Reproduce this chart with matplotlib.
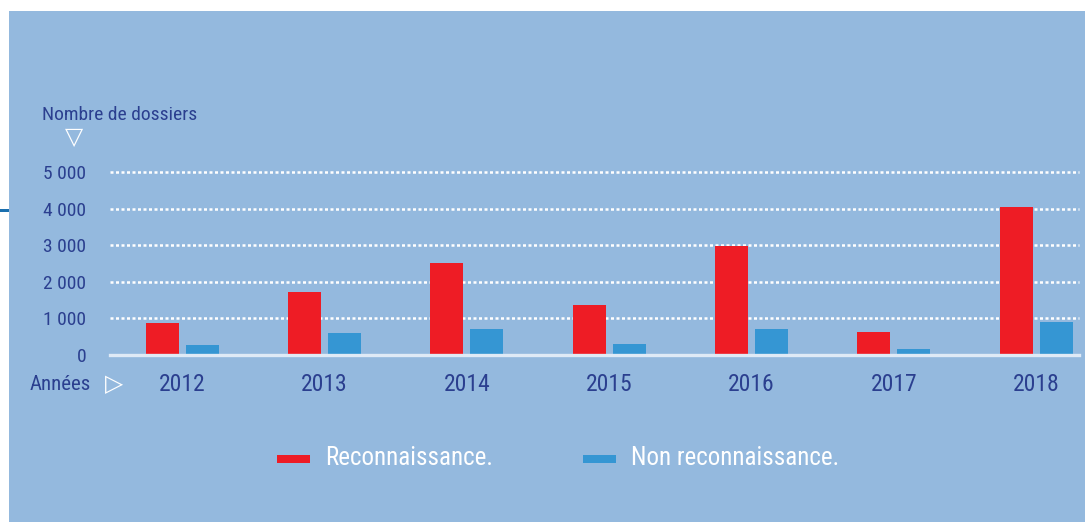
import matplotlib.pyplot as plt
from matplotlib.patches import Rectangle

years = ["2012", "2013", "2014", "2015", "2016", "2017", "2018"]
reconnaissance = [880, 1720, 2520, 1370, 2990, 630, 4040]
non_reconnaissance = [270, 610, 710, 300, 720, 165, 900]
yticks = [0, 1000, 2000, 3000, 4000, 5000]
ytick_labels = ["0", "1 000", "2 000", "3 000", "4 000", "5 000"]

BG = "#94b9de"
RED = "#ee1c25"
BLUE = "#3596d3"
TXT = "#2b3f8f"

plt.rcParams['font.family'] = ['Roboto Condensed', 'DejaVu Sans']

W, H = 1085, 522
fig = plt.figure(figsize=(W / 100, H / 100), dpi=100)
fig.patch.set_facecolor("white")

# background panel
fig.add_artist(Rectangle((9 / W, 0), 1, 1 - 11 / H, transform=fig.transFigure,
                         facecolor=BG, edgecolor="none", zorder=0))
fig.add_artist(Rectangle((0, 1 - 212 / H), 9 / W, 3 / H, transform=fig.transFigure,
                         facecolor="#1b6fae", edgecolor="none", zorder=1))

ax = fig.add_axes([110 / W, 1 - 355 / H, 969 / W, 183 / H])
ax.set_facecolor("none")
for s in ax.spines.values():
    s.set_visible(False)

x = list(range(len(years)))
bw = 33 / 142.4
off = 20 / 142.4
ax.bar([i - off for i in x], reconnaissance, width=bw, color=RED, zorder=3)
ax.bar([i + off for i in x], non_reconnaissance, width=bw, color=BLUE, zorder=3)

for v in yticks[1:]:
    ax.axhline(v, color="white", lw=1.8, linestyle=(0, (1.2, 1.0)), zorder=2, clip_on=False)
ax.axhline(0, color="#dfeaf6", lw=2.4, zorder=4, clip_on=False)

ax.set_xlim(-0.506, 6.3)
ax.set_ylim(0, 5000)
ax.set_yticks(yticks)
ax.set_yticklabels(ytick_labels)
ax.set_xticks(x)
ax.set_xticklabels(years)
ax.tick_params(axis="y", length=0, pad=17, labelsize=14, labelcolor=TXT)
ax.tick_params(axis="x", length=0, pad=13, labelsize=17, labelcolor=TXT)

fig.text(42 / W, 1 - 115 / H, "Nombre de dossiers", fontsize=14, color=TXT,
         ha="left", va="center")
fig.text(74 / W, 1 - 137 / H, "▽", fontsize=17, color="white", ha="center", va="center",
         family=['DejaVu Sans'])
fig.text(30 / W, 1 - 384 / H, "Années", fontsize=15, color=TXT, ha="left", va="center")
fig.text(114 / W, 1 - 384 / H, "▷", fontsize=17, color="white", ha="center", va="center",
         family=['DejaVu Sans'])

# legend
for px, color, label in [(277, RED, "Reconnaissance."), (583, BLUE, "Non reconnaissance.")]:
    fig.add_artist(Rectangle((px / W, 1 - 463 / H), 33 / W, 8 / H, transform=fig.transFigure,
                             facecolor=color, edgecolor="none"))
    fig.text((px + 48) / W, 1 - 458 / H, label, fontsize=18, color="white",
             ha="left", va="center")

fig.savefig("out.png", dpi=100, facecolor=fig.get_facecolor())
